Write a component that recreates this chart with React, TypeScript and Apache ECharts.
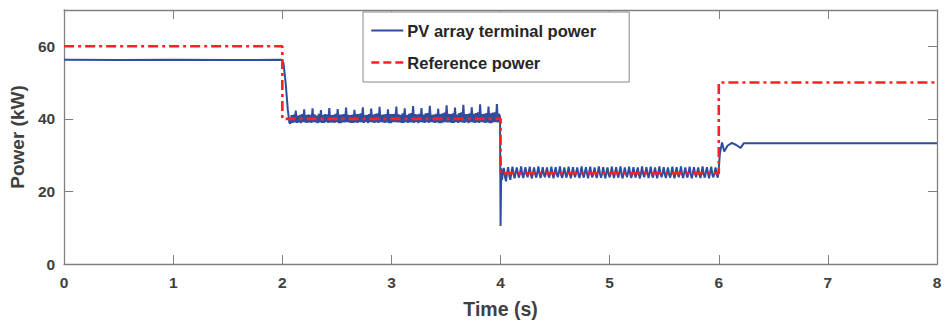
import React, { useEffect, useRef } from "react";
import * as echarts from "echarts";

// Reference (commanded) power, step profile [time (s), power (kW)]
const referencePower: [number, number][] = [
  [0, 60], [2, 60], [2, 40], [4, 40], [4, 25], [6, 25], [6, 50], [8, 50],
];

// PV array terminal power, stage 1 and transition (t, kW)
const pvStage1: [number, number][] = [
  [0, 56.3], [0.5, 56.2], [1.0, 56.3], [1.5, 56.2], [1.995, 56.3],
  [2.01, 55.4], [2.03, 50.0], [2.05, 42.5], [2.065, 38.8],
];

// Stage 2 oscillation (samples from 2.075 s, 0.0096 s apart)
const pvStage2Start = 2.075;
const pvStage2Step = 0.0096;
const pvStage2: number[] = [
  38.8, 41.0, 38.9, 41.2, 39.0, 42.3, 38.9, 40.9,
  39.0, 41.1, 38.8, 41.3, 39.1, 42.6, 39.0, 41.0,
  38.9, 41.2, 39.0, 41.1, 38.9, 42.9, 39.1, 41.2,
  39.0, 40.9, 38.8, 41.4, 39.0, 42.4, 38.9, 41.1,
  38.9, 41.3, 39.1, 41.2, 38.9, 43.0, 39.0, 41.0,
  39.0, 41.1, 38.9, 41.4, 39.1, 42.7, 38.8, 41.2,
  38.8, 41.2, 39.0, 41.3, 39.0, 43.1, 39.1, 41.1,
  39.0, 41.0, 38.9, 41.2, 38.9, 42.5, 39.0, 41.3,
  38.9, 41.3, 39.1, 41.5, 39.0, 43.2, 38.9, 41.0,
  39.1, 41.1, 38.8, 41.3, 39.1, 42.8, 39.0, 41.2,
  38.9, 41.4, 39.0, 41.5, 38.9, 43.3, 39.1, 41.1,
  39.0, 41.2, 38.9, 41.3, 39.0, 42.6, 38.8, 41.3,
  38.8, 41.3, 39.1, 41.4, 39.1, 43.4, 39.0, 41.2,
  39.0, 41.1, 38.9, 41.5, 38.9, 42.9, 39.1, 41.0,
  38.9, 41.4, 39.0, 41.6, 39.0, 43.5, 38.9, 41.3,
  39.1, 41.2, 38.8, 41.4, 39.1, 43.0, 39.0, 41.2,
  38.9, 41.5, 39.1, 41.6, 38.9, 43.6, 39.1, 41.1,
  39.0, 41.2, 38.9, 41.4, 39.0, 42.8, 38.8, 41.3,
  38.8, 41.5, 39.0, 41.7, 39.1, 43.7, 39.0, 41.4,
  39.0, 41.3, 38.9, 41.5, 38.9, 43.1, 39.1, 41.2,
  38.9, 41.6, 39.1, 41.8, 39.0, 43.9, 38.9, 41.3,
  39.1, 41.3, 38.8, 41.5, 39.1, 43.2, 39.0, 41.4,
  38.9, 41.6, 39.0, 41.8, 38.9, 44.0, 39.1, 41.3,
  39.0, 41.4, 38.9, 41.6, 39.0, 43.4, 38.8, 41.5,
  38.8, 41.7, 39.1, 41.8, 39.1, 44.1, 39.0, 41.4,
];

// Transition at 4 s with the undershoot spike
const pvTransition2: [number, number][] = [
  [3.995, 40.6], [4.0, 10.5], [4.006, 26.4], [4.013, 23.2],
];

// Stage 3 oscillation (samples from 4.02 s, 0.0099 s apart)
const pvStage3Start = 4.02;
const pvStage3Step = 0.0099;
const pvStage3: number[] = [
  25.0, 26.5, 24.2, 22.8, 25.1, 26.7, 24.6, 23.2,
  25.2, 26.8, 24.8, 23.6, 25.3, 26.6, 24.9, 23.8,
  25.1, 26.9, 24.8, 23.7, 25.2, 26.7, 24.9, 23.9,
  25.3, 26.8, 24.7, 23.6, 25.1, 26.6, 24.8, 23.8,
  25.2, 26.9, 24.9, 23.7, 25.0, 26.7, 24.8, 23.9,
  25.3, 26.6, 24.7, 23.8, 25.1, 26.8, 24.9, 23.6,
  25.2, 26.7, 24.8, 23.9, 25.3, 26.9, 24.7, 23.7,
  25.1, 26.6, 24.9, 23.8, 25.2, 26.8, 24.8, 23.6,
  25.0, 26.7, 24.9, 23.9, 25.3, 26.6, 24.7, 23.7,
  25.1, 26.9, 24.8, 23.8, 25.2, 26.7, 24.9, 23.6,
  25.3, 26.8, 24.7, 23.9, 25.1, 26.6, 24.8, 23.7,
  25.2, 26.9, 24.9, 23.8, 25.0, 26.7, 24.8, 23.6,
  25.3, 26.6, 24.7, 23.9, 25.1, 26.8, 24.9, 23.7,
  25.2, 26.7, 24.8, 23.8, 25.3, 26.9, 24.7, 23.6,
  25.1, 26.6, 24.9, 23.9, 25.2, 26.8, 24.8, 23.7,
  25.0, 26.7, 24.9, 23.8, 25.3, 26.6, 24.7, 23.6,
  25.1, 26.9, 24.8, 23.9, 25.2, 26.7, 24.9, 23.7,
  25.3, 26.8, 24.7, 23.8, 25.1, 26.6, 24.8, 23.6,
  25.2, 26.9, 24.9, 23.9, 25.0, 26.7, 24.8, 23.7,
  25.3, 26.6, 24.7, 23.8, 25.1, 26.8, 24.9, 23.6,
  25.2, 26.7, 24.8, 23.9, 25.3, 26.9, 24.7, 23.7,
  25.1, 26.6, 24.9, 23.8, 25.2, 26.8, 24.8, 23.6,
  25.0, 26.7, 24.9, 23.9, 25.3, 26.6, 24.7, 23.7,
  25.1, 26.9, 24.8, 23.8, 25.2, 26.7, 24.9, 23.6,
  25.3, 26.8, 24.7, 23.9, 25.1, 26.6, 24.8, 23.8,
];

// Stage 4: step at 6 s and settling (t, kW)
const pvStage4: [number, number][] = [
  [5.997, 25.0], [6.01, 30.5], [6.03, 33.5], [6.05, 31.0], [6.08, 32.6],
  [6.12, 33.4], [6.16, 32.8], [6.2, 32.0], [6.23, 33.3], [6.5, 33.3],
  [7.0, 33.3], [8.0, 33.3],
];

const xTicks = [0, 1, 2, 3, 4, 5, 6, 7, 8];
const yTicks = [0, 20, 40, 60];

const seriesNames = ["PV array terminal power", "Reference power"];

function buildPv(): [number, number][] {
  const out: [number, number][] = [...pvStage1];
  pvStage2.forEach((v, i) => out.push([pvStage2Start + i * pvStage2Step, v]));
  out.push(...pvTransition2);
  pvStage3.forEach((v, i) => out.push([pvStage3Start + i * pvStage3Step, v]));
  out.push(...pvStage4);
  return out;
}

const FONT = "'Liberation Sans', Arial, Helvetica, sans-serif";
const TEXT = "#404040";
const AXIS = "#808080";
const BLUE = "#2f4d9e";
const RED = "#ff2020";
const RED_DASH = [10, 4, 3, 4];

export default function App() {
  const ref = useRef<HTMLDivElement>(null);
  useEffect(() => {
    if (!ref.current) return;
    const chart = echarts.init(ref.current, undefined, { renderer: "svg" });
    const hiddenAxisCommon = {
      axisLabel: { show: false },
      axisTick: { show: true, inside: true, length: 9, lineStyle: { color: AXIS } },
      axisLine: { show: true, onZero: false, lineStyle: { color: AXIS, width: 1.3 } },
      splitLine: { show: false },
    };
    chart.setOption({
      animation: false,
      backgroundColor: "#ffffff",
      grid: { left: 62, right: 11, top: 10, bottom: 60, containLabel: false },
      legend: {
        orient: "vertical",
        left: 363,
        top: 12,
        data: [
          { name: seriesNames[0], itemStyle: { opacity: 0 }, lineStyle: { color: BLUE, width: 2 } },
          { name: seriesNames[1], itemStyle: { opacity: 0 }, lineStyle: { color: RED, width: 2.6, type: [8, 4] } },
        ],
        itemWidth: 32,
        itemHeight: 14,
        itemGap: 15,
        padding: [10, 33, 11, 7],
        borderColor: "#888",
        borderWidth: 1,
        backgroundColor: "#fff",
        textStyle: { fontFamily: FONT, fontWeight: "bold", fontSize: 16.5, color: "#262626", padding: [0, 0, 0, -1] },
      },
      xAxis: [
        {
          type: "value",
          min: 0,
          max: 8,
          interval: 1,
          name: "Time (s)",
          nameLocation: "middle",
          nameGap: 35,
          nameTextStyle: { fontFamily: FONT, fontWeight: "bold", fontSize: 19.5, color: TEXT },
          axisLabel: {
            fontFamily: FONT, fontWeight: "bold", fontSize: 15.5, color: TEXT, margin: 10,
            formatter: (v: number) => (xTicks.includes(v) ? String(v) : ""),
          },
          axisTick: { inside: true, length: 9, lineStyle: { color: AXIS } },
          axisLine: { onZero: false, lineStyle: { color: AXIS, width: 1.3 } },
          splitLine: { show: false },
        },
        { type: "value", min: 0, max: 8, interval: 1, position: "top", ...hiddenAxisCommon },
      ],
      yAxis: [
        {
          type: "value",
          min: 0,
          max: 70,
          interval: 20,
          name: "Power (kW)",
          nameLocation: "middle",
          nameGap: 32,
          nameTextStyle: { fontFamily: FONT, fontWeight: "bold", fontSize: 19, color: TEXT },
          axisLabel: {
            fontFamily: FONT, fontWeight: "bold", fontSize: 15.5, color: TEXT, margin: 9,
            showMaxLabel: false,
            formatter: (v: number) => (yTicks.includes(v) ? String(v) : ""),
          },
          axisTick: { inside: true, length: 9, lineStyle: { color: AXIS } },
          axisLine: { show: true, onZero: false, lineStyle: { color: AXIS, width: 1.3 } },
          splitLine: { show: false },
        },
        { type: "value", min: 0, max: 70, interval: 20, position: "right", ...hiddenAxisCommon },
      ],
      series: [
        {
          name: seriesNames[0],
          type: "line",
          data: buildPv(),
          symbol: "none",
          lineStyle: { color: BLUE, width: 2 },
          itemStyle: { color: BLUE },
          z: 2,
        },
        {
          name: seriesNames[1],
          type: "line",
          data: referencePower,
          symbol: "none",
          lineStyle: { color: RED, width: 2.6, type: RED_DASH },
          itemStyle: { color: RED },
          z: 3,
        },
      ],
    });
    return () => chart.dispose();
  }, []);
  return (
    <div
      ref={ref}
      style={{ position: "fixed", left: 0, top: 0, width: 948, height: 324 }}
    />
  );
}
